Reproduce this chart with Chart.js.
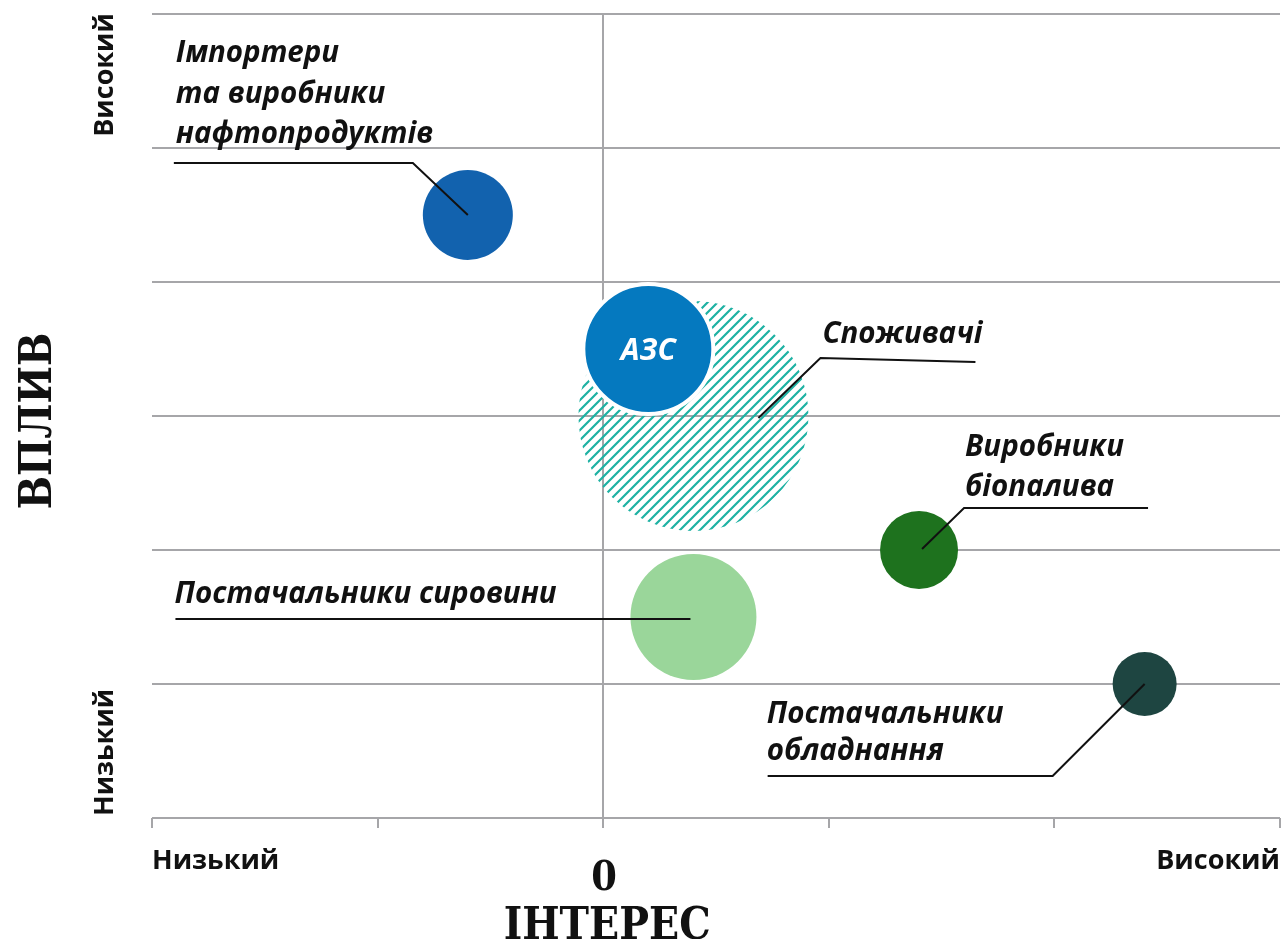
<!DOCTYPE html>
<html>
<head>
<meta charset="utf-8">
<script src="https://cdn.jsdelivr.net/npm/chart.js@4.4.1/dist/chart.umd.min.js"></script>
<style>
  html, body { margin: 0; padding: 0; background: #fff; }
</style>
</head>
<body>
<canvas id="chart" width="1284" height="939"></canvas>
<script>
// stakeholders (drawn in this order, later ones on top)
const stakeholders = ['Споживачі', 'АЗС', 'Імпортери та виробники нафтопродуктів', 'Виробники біопалива', 'Постачальники сировини', 'Постачальники обладнання'];
const interest = [0.4, 0.2, -0.6, 1.4, 0.4, 2.4];
const influence = [3, 3.5, 4.5, 2, 1.5, 1];
const bubbleSize = [115, 65, 45, 39, 63, 32];

const xTickLabels = ['Низький', '0', 'Високий'];
const yTickLabels = ['Низький', 'Високий'];
const xTitle = 'ІНТЕРЕС';
const yTitle = 'ВПЛИВ';

const GRID = '#a6a6a9';
const TITLE_FONT = '700 44px "DejaVu Serif Condensed", "DejaVu Serif"';

// hatched fill for "Споживачі"
function hatch(color) {
  const s = 10;
  const c = document.createElement('canvas');
  c.width = s; c.height = s;
  const g = c.getContext('2d');
  g.strokeStyle = color;
  g.lineWidth = 2.2;
  g.beginPath();
  g.moveTo(-1, s + 1); g.lineTo(s + 1, -1);
  g.moveTo(-3, 3); g.lineTo(3, -3);
  g.moveTo(s - 3, s + 3); g.lineTo(s + 3, s - 3);
  g.stroke();
  return g.createPattern(c, 'repeat');
}

const colors = [hatch('#1db1a3'), '#0579bf', '#1262ae', '#1e721e', '#9ad69a', '#1e4541'];

// callout lines: offsets from bubble centre, text lines and where they start
const callouts = [
  { path: [[65, 2], [127, -58], [282, -54]], text: ['Споживачі'], at: [129, -73], lh: 40 },
  null,
  { path: [[0, 0], [-55, -52], [-294, -52]], text: ['Імпортери', 'та виробники', 'нафтопродуктів'], at: [-292, -153], lh: 40.5 },
  { path: [[3, -1], [45, -42], [229, -42]], text: ['Виробники', 'біопалива'], at: [46, -94], lh: 40 },
  { path: [[-3, 2], [-518, 2]], text: ['Постачальники сировини'], at: [-519, -14], lh: 40 },
  { path: [[0, 0], [-92, 92], [-377, 92]], text: ['Постачальники', 'обладнання'], at: [-378, 39], lh: 37 }
];

const calloutPlugin = {
  id: 'callouts',
  afterDatasetsDraw(chart) {
    const { ctx } = chart;
    const pts = chart.getDatasetMeta(0).data;
    ctx.save();
    ctx.strokeStyle = '#111';
    ctx.lineWidth = 2;
    ctx.fillStyle = '#111';
    ctx.font = 'italic 700 29.5px "Open Sans"';
    ctx.textAlign = 'left';
    ctx.textBaseline = 'alphabetic';
    callouts.forEach((c, i) => {
      if (!c) return;
      const p = pts[i];
      ctx.beginPath();
      c.path.forEach(([dx, dy], k) => {
        if (k === 0) ctx.moveTo(p.x + dx, p.y + dy);
        else ctx.lineTo(p.x + dx, p.y + dy);
      });
      ctx.stroke();
      c.text.forEach((t, k) => ctx.fillText(t, p.x + c.at[0], p.y + c.at[1] + k * c.lh));
    });
    // АЗС label inside its bubble
    const a = pts[1];
    ctx.fillStyle = '#fff';
    ctx.textAlign = 'center';
    ctx.textBaseline = 'middle';
    ctx.font = 'italic 700 30px "Open Sans"';
    ctx.fillText(stakeholders[1], a.x, a.y + 2);
    ctx.restore();
  },
  afterDraw(chart) {
    const { ctx, scales: { x, y } } = chart;
    ctx.save();
    ctx.fillStyle = '#111';
    // x axis labels
    ctx.font = '700 27px "Open Sans"';
    ctx.textBaseline = 'alphabetic';
    ctx.textAlign = 'left';
    ctx.fillText(xTickLabels[0], x.left, 869);
    ctx.textAlign = 'right';
    ctx.fillText(xTickLabels[2], x.right, 869);
    ctx.textAlign = 'center';
    ctx.font = '700 41px "DejaVu Serif Condensed", "DejaVu Serif"';
    ctx.fillText(xTickLabels[1], x.getPixelForValue(0) + 1, 890);
    ctx.font = TITLE_FONT;
    ctx.fillText(xTitle, x.getPixelForValue(0) + 4, 939);
    // y axis labels (rotated)
    ctx.save();
    ctx.translate(113, 0);
    ctx.rotate(-Math.PI / 2);
    ctx.font = '700 27px "Open Sans"';
    ctx.textAlign = 'left';
    ctx.fillText(yTickLabels[0], -y.bottom + 2, 0);
    ctx.textAlign = 'right';
    ctx.fillText(yTickLabels[1], -y.top + 1, 0);
    ctx.restore();
    ctx.save();
    ctx.translate(51, 421);
    ctx.rotate(-Math.PI / 2);
    ctx.font = TITLE_FONT;
    ctx.textAlign = 'center';
    ctx.fillText(yTitle, 0, 0);
    ctx.restore();
    ctx.restore();
  }
};

new Chart(document.getElementById('chart'), {
  type: 'bubble',
  data: {
    datasets: [{
      label: 'Зацікавлені сторони',
      data: interest.map((v, i) => ({ x: v, y: influence[i], r: bubbleSize[i] })),
      backgroundColor: colors,
      borderColor: '#fff',
      borderWidth: [0, 4, 0, 0, 0, 0],
      hoverBorderWidth: 0,
      clip: false
    }]
  },
  options: {
    responsive: false,
    animation: false,
    events: [],
    layout: { autoPadding: false, padding: { left: 152, right: 4, top: 14, bottom: 121 } },
    plugins: { legend: { display: false }, tooltip: { enabled: false } },
    scales: {
      x: {
        min: -2, max: 3,
        ticks: { stepSize: 1, display: false },
        border: { display: false },
        grid: {
          color: c => (c.tick && c.tick.value === 0 ? GRID : 'rgba(0,0,0,0)'),
          tickColor: GRID,
          lineWidth: 2,
          tickLength: 10
        },
        afterFit(s) { s.height = 0; }
      },
      y: {
        min: 0, max: 6,
        ticks: { stepSize: 1, display: false },
        border: { display: false },
        grid: { color: GRID, lineWidth: 2, drawTicks: false },
        afterFit(s) { s.width = 0; }
      }
    }
  },
  plugins: [calloutPlugin]
});
</script>
</body>
</html>
